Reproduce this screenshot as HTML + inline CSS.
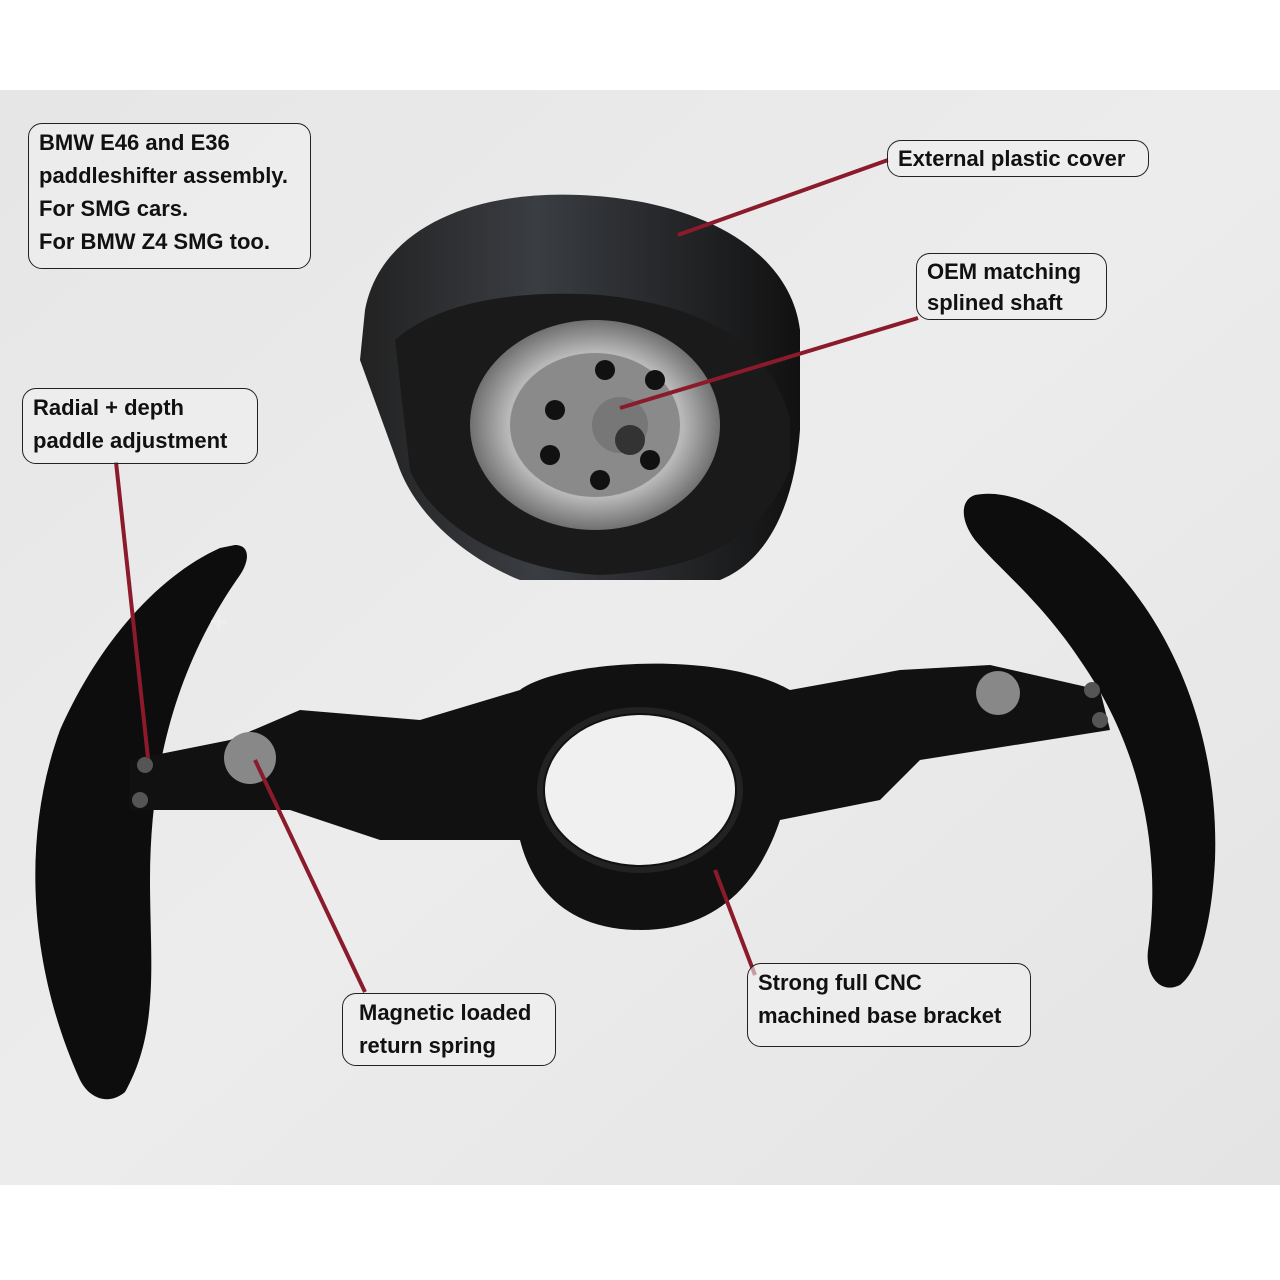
<!DOCTYPE html>
<html><head><meta charset="utf-8"><style>
html,body{margin:0;padding:0;background:#fff}
body{width:1280px;height:1280px;position:relative;overflow:hidden;font-family:"Liberation Sans",sans-serif}
.lbl{position:absolute;border:1.5px solid #222;border-radius:14px;background:rgba(240,240,240,0.6);font-weight:bold;font-size:22px;line-height:33px;color:#111;padding:2px 10px;box-sizing:border-box}
</style></head><body>
<svg width="1280" height="1280" style="position:absolute;left:0;top:0">
<defs>
<linearGradient id="bg" x1="0" y1="0" x2="1" y2="1">
<stop offset="0" stop-color="#e6e6e6"/><stop offset="0.5" stop-color="#ececec"/><stop offset="1" stop-color="#e4e4e4"/>
</linearGradient>
<radialGradient id="disc" cx="0.5" cy="0.5" r="0.5">
<stop offset="0" stop-color="#9a9a9a"/><stop offset="0.7" stop-color="#b8b8b8"/><stop offset="1" stop-color="#707070"/>
</radialGradient>
<linearGradient id="drum" x1="0" y1="0" x2="1" y2="0">
<stop offset="0" stop-color="#222"/><stop offset="0.4" stop-color="#3a3d42"/><stop offset="1" stop-color="#111"/>
</linearGradient>
</defs>
<rect x="0" y="90" width="1280" height="1095" fill="url(#bg)"/>
<!-- hub drum -->
<path d="M365,310 C380,230 470,190 580,195 C700,200 790,250 800,330 L800,430 C795,500 770,560 720,580 L520,580 C470,560 420,520 400,470 L360,360 Z" fill="url(#drum)"/>
<path d="M395,340 C440,300 520,290 600,295 C700,305 770,340 790,420 L790,470 C760,540 700,570 600,575 C500,570 430,520 410,470 Z" fill="#1a1a1a"/>
<ellipse cx="595" cy="425" rx="125" ry="105" fill="url(#disc)"/>
<ellipse cx="595" cy="425" rx="85" ry="72" fill="#8a8a8a"/>
<g fill="#111">
<circle cx="555" cy="410" r="10"/><circle cx="605" cy="370" r="10"/><circle cx="655" cy="380" r="10"/>
<circle cx="550" cy="455" r="10"/><circle cx="600" cy="480" r="10"/><circle cx="650" cy="460" r="10"/>
</g>
<circle cx="620" cy="425" r="28" fill="#777"/><circle cx="630" cy="440" r="15" fill="#333"/>
<!-- left paddle -->
<path d="M235,545 C250,545 250,560 240,575 C180,660 150,760 150,880 C150,960 160,1030 125,1092 C110,1105 90,1100 80,1080 C30,970 20,840 60,730 C100,640 160,575 220,548 Z" fill="#0d0d0d"/>
<!-- right paddle -->
<path d="M975,495 C1000,490 1030,500 1060,520 C1160,590 1220,720 1215,860 C1212,920 1200,970 1180,985 C1160,995 1145,975 1148,950 C1160,870 1150,760 1080,660 C1040,600 1000,570 975,540 C960,520 960,500 975,495 Z" fill="#0d0d0d"/>
<!-- bracket -->
<path d="M130,760 L230,740 L300,710 L420,720 L520,690 C560,660 720,650 790,690 L900,670 L990,665 L1100,690 L1110,730 L920,760 L880,800 L780,820 C760,880 720,930 640,930 C560,930 530,880 520,840 L380,840 L290,810 L130,810 Z" fill="#111"/>
<ellipse cx="640" cy="790" rx="95" ry="75" fill="#f0f0f0"/>
<ellipse cx="640" cy="790" rx="100" ry="80" fill="none" stroke="#222" stroke-width="6"/>
<circle cx="250" cy="758" r="26" fill="#888"/><circle cx="998" cy="693" r="22" fill="#888"/>
<g fill="#555"><circle cx="145" cy="765" r="8"/><circle cx="140" cy="800" r="8"/><circle cx="1092" cy="690" r="8"/><circle cx="1100" cy="720" r="8"/></g>
<text x="210" y="632" font-size="30" font-weight="bold" fill="#eee" font-family="Liberation Sans">+</text>
<!-- connectors -->
<g stroke="#8b1a2b" stroke-width="4" fill="none">
<line x1="888" y1="160" x2="678" y2="235"/>
<line x1="918" y1="318" x2="620" y2="408"/>
<line x1="116" y1="462" x2="148" y2="758"/>
<line x1="365" y1="992" x2="255" y2="760"/>
<line x1="755" y1="975" x2="715" y2="870"/>
</g>
</svg>
<div class="lbl" style="left:28px;top:123px;width:283px;height:146px">BMW E46 and E36<br>paddleshifter assembly.<br>For SMG cars.<br>For BMW Z4 SMG too.</div>
<div class="lbl" style="left:887px;top:140px;width:262px;height:37px;line-height:31px">External plastic cover</div>
<div class="lbl" style="left:916px;top:253px;width:191px;height:67px;line-height:31px">OEM matching<br>splined shaft</div>
<div class="lbl" style="left:22px;top:388px;width:236px;height:76px;line-height:33px">Radial + depth<br>paddle adjustment</div>
<div class="lbl" style="left:342px;top:993px;width:214px;height:73px;line-height:33px;padding-left:16px">Magnetic loaded<br>return spring</div>
<div class="lbl" style="left:747px;top:963px;width:284px;height:84px;line-height:33px">Strong full CNC<br>machined base bracket</div>
</body></html>
